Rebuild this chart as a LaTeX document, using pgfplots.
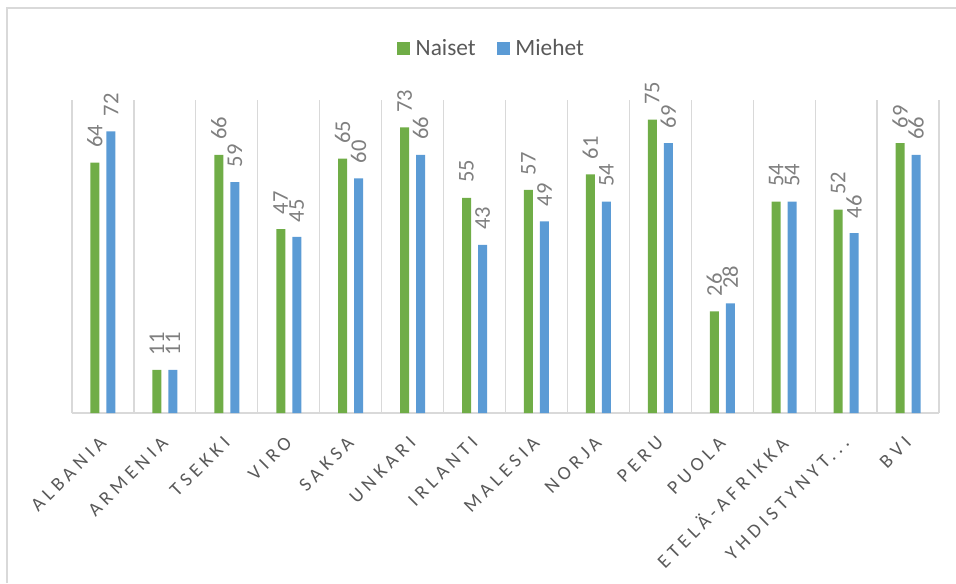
\documentclass[border=0pt]{standalone}
\usepackage{pgfplots}
\pgfplotsset{compat=1.18}
\usepackage{fontspec}
\setmainfont{Carlito}
\newfontfamily\lblfont{Carlito}[LetterSpace=24]
\definecolor{naiset}{HTML}{70AD47}
\definecolor{miehet}{HTML}{5B9BD5}
\definecolor{gridc}{HTML}{D9D9D9}
\definecolor{txt}{HTML}{595959}
\definecolor{dlbl}{HTML}{7F7F7F}

\begin{document}
\begin{tikzpicture}
\useasboundingbox (0pt,0pt) rectangle (717pt,437.25pt);
\draw[gridc, line width=1.2pt] (5.25pt,0pt) -- (5.25pt,431.25pt) -- (717pt,431.25pt);
\begin{axis}[
    at={(54pt,127.5pt)}, anchor=south west,
    scale only axis, width=650.25pt, height=234.75pt,
    ybar=5.25pt, bar width=6.75pt,
    xmin=-0.5, xmax=13.5, ymin=0, ymax=80,
    axis y line=none, axis x line*=bottom,
    x axis line style={gridc, line width=0.9pt, -},
    xtick={0,...,13},
    xticklabels={ALBANIA,ARMENIA,TSEKKI,VIRO,SAKSA,UNKARI,IRLANTI,MALESIA,NORJA,PERU,PUOLA,ETELÄ-AFRIKKA,{YHDISTYNYT.{}.{}.},BVI},
    major tick length=0, minor tick length=0,
    minor xtick={-0.5,0.5,...,13.5},
    xminorgrids=true,
    minor grid style={gridc, line width=0.9pt},
    xticklabel style={font=\lblfont\fontsize{14.5}{17}\selectfont, text=txt, rotate=45, anchor=east, inner sep=0pt},
    xticklabel shift=20pt,
    nodes near coords,
    /pgf/number format/assume math mode=true,
    every node near coord/.append style={rotate=90, anchor=west, font=\fontsize{16.9}{20}\selectfont, text=dlbl, inner xsep=11pt, inner ysep=0pt},
    legend columns=2,
    legend style={at={(0.4844,1.166)}, anchor=center, draw=none, fill=none,
        font=\fontsize{17.5}{21}\selectfont, text=txt,
        /tikz/every odd column/.append style={column sep=2pt},
        /tikz/every even column/.append style={column sep=14pt}},
    legend image code/.code={\fill[#1] (0pt,-4.9pt) rectangle (9.75pt,4.9pt);},
    clip=false,
]
\addplot[fill=naiset, draw=none] coordinates {
    (0,64) (1,11) (2,66) (3,47) (4,65) (5,73) (6,55)
    (7,57) (8,61) (9,75) (10,26) (11,54) (12,52) (13,69)};
\addplot[fill=miehet, draw=none] coordinates {
    (0,72) (1,11) (2,59) (3,45) (4,60) (5,66) (6,43)
    (7,49) (8,54) (9,69) (10,28) (11,54) (12,46) (13,66)};
\legend{Naiset, Miehet}
\end{axis}
\end{tikzpicture}
\end{document}
